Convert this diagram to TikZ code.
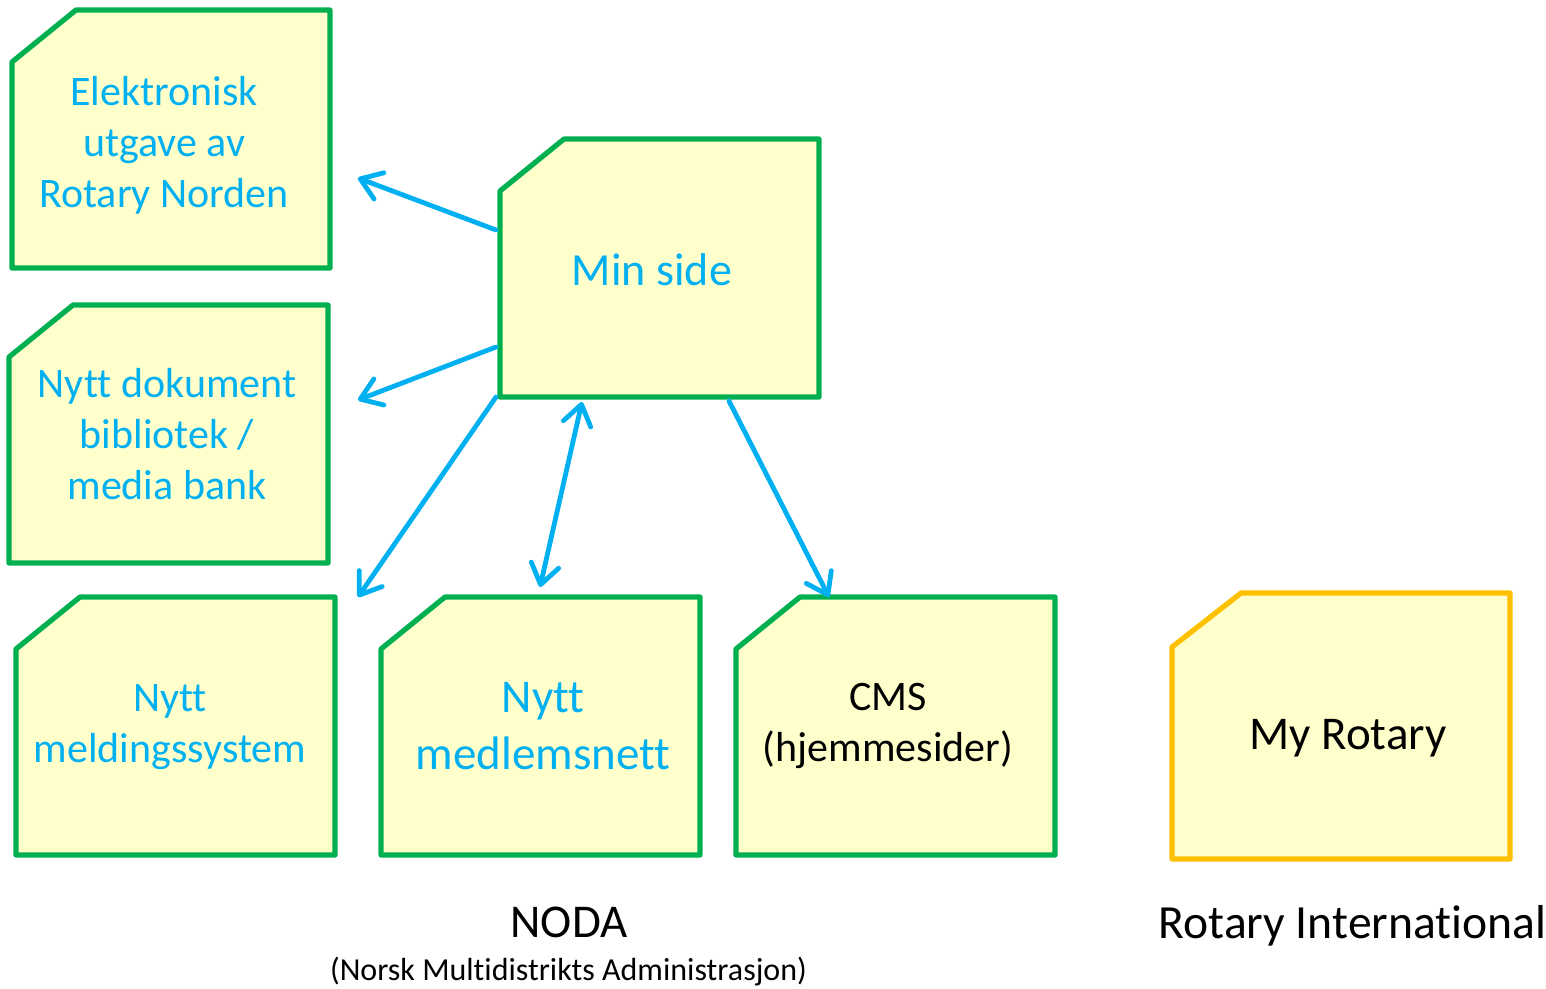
\documentclass[tikz,border=0pt]{standalone}
\usepackage{fontspec}
\setmainfont{Carlito}[Ligatures=CommonOff]
\usetikzlibrary{arrows.meta}
\definecolor{boxgreen}{HTML}{00B050}
\definecolor{boxorange}{HTML}{FFC000}
\definecolor{boxfill}{HTML}{FFFFCC}
\definecolor{skyblue}{HTML}{00B0F0}
\tikzset{
  cardnode/.style={rectangle, inner sep=0pt, outer sep=0pt, minimum width=319pt, minimum height=258pt},
  cardline/.style={draw=#1, fill=boxfill, line width=5.2pt, line join=round},
  txt/.style={inner sep=0pt, align=center, text=skyblue, execute at begin node=\strut, execute at end node=\strut},
  fA/.style={font=\fontsize{42}{51}\selectfont},
  fB/.style={font=\fontsize{47}{57}\selectfont},
  fC/.style={font=\fontsize{46}{56}\selectfont},
  conn/.style={draw=skyblue, line width=4.8pt, line cap=round, -{Straight Barb[length=20pt,width=28pt,line cap=round,line join=round]}},
  biconn/.style={draw=skyblue, line width=4.8pt, line cap=round, {Straight Barb[length=20pt,width=28pt,line cap=round,line join=round]}-{Straight Barb[length=20pt,width=28pt,line cap=round,line join=round]}},
}
\begin{document}
\begin{tikzpicture}[x=1pt,y=-1pt]
\useasboundingbox (0,0) rectangle (1546,988);
% box placeholders
\node[cardnode, minimum width=318pt] (elek) at (171,139) {};
\node[cardnode] (dok) at (168.5,434) {};
\node[cardnode] (mins) at (659.5,268) {};
\node[cardnode] (meld) at (175.5,726) {};
\node[cardnode] (medl) at (540.5,726) {};
\node[cardnode] (cms) at (895.5,726) {};
\node[cardnode, minimum width=338pt, minimum height=266pt] (myr) at (1341,726) {};
% card outlines
\foreach \n in {elek,dok,mins,meld,medl,cms}
  \draw[cardline=boxgreen] (\n.south west) -- (\n.south east) -- (\n.north east)
     -- ([xshift=64pt]\n.north west) -- ([yshift=-52pt]\n.north west) -- cycle;
\draw[cardline=boxorange] (myr.south west) -- (myr.south east) -- (myr.north east)
     -- ([xshift=69pt]myr.north west) -- ([yshift=-54pt]myr.north west) -- cycle;
% texts
\node[txt, fA] (elekT) at (164,150) {Elektronisk\\utgave av\\Rotary Norden};
\node[txt, fA] (dokT) at (167,442) {Nytt dokument\\bibliotek /\\media bank};
\node[txt, fC] (minsT) at (652,274) {Min side};
\node[txt, fA] (meldT) at (170,731) {Nytt\\meldingssystem};
\node[txt, fB] (medlT) at (543,734) {Nytt\\medlemsnett};
\node[txt, fA, text=black] (cmsT) at (888,730.5) {CMS\\(hjemmesider)};
\node[txt, fB, text=black] (myrT) at (1348,738.5) {My Rotary};
\node[anchor=base, inner sep=0pt, font=\fontsize{47}{56}\selectfont] (noda) at (569,937) {NODA};
\node[anchor=base, inner sep=0pt, font=\fontsize{32}{38}\selectfont] (nodasub) at (568.5,980) {(Norsk Multidistrikts Administrasjon)};
\node[anchor=base, inner sep=0pt, font=\fontsize{47.6}{57}\selectfont] (ri) at (1352.5,938) {Rotary International};
% connector end points
\coordinate (a1s) at (496,230); \coordinate (a1e) at (358,178);
\coordinate (a2s) at (496,347); \coordinate (a2e) at (358,400);
\coordinate (a3s) at (496,397); \coordinate (a3e) at (358,597);
\coordinate (a4s) at (540,587); \coordinate (a4e) at (582,402);
\coordinate (a5s) at (729,401); \coordinate (a5e) at (829,597);
\draw[conn] (a1s) -- (a1e);
\draw[conn] (a2s) -- (a2e);
\draw[conn] (a3s) -- (a3e);
\draw[biconn] (a4s) -- (a4e);
\draw[conn] (a5s) -- (a5e);
\end{tikzpicture}
\end{document}
